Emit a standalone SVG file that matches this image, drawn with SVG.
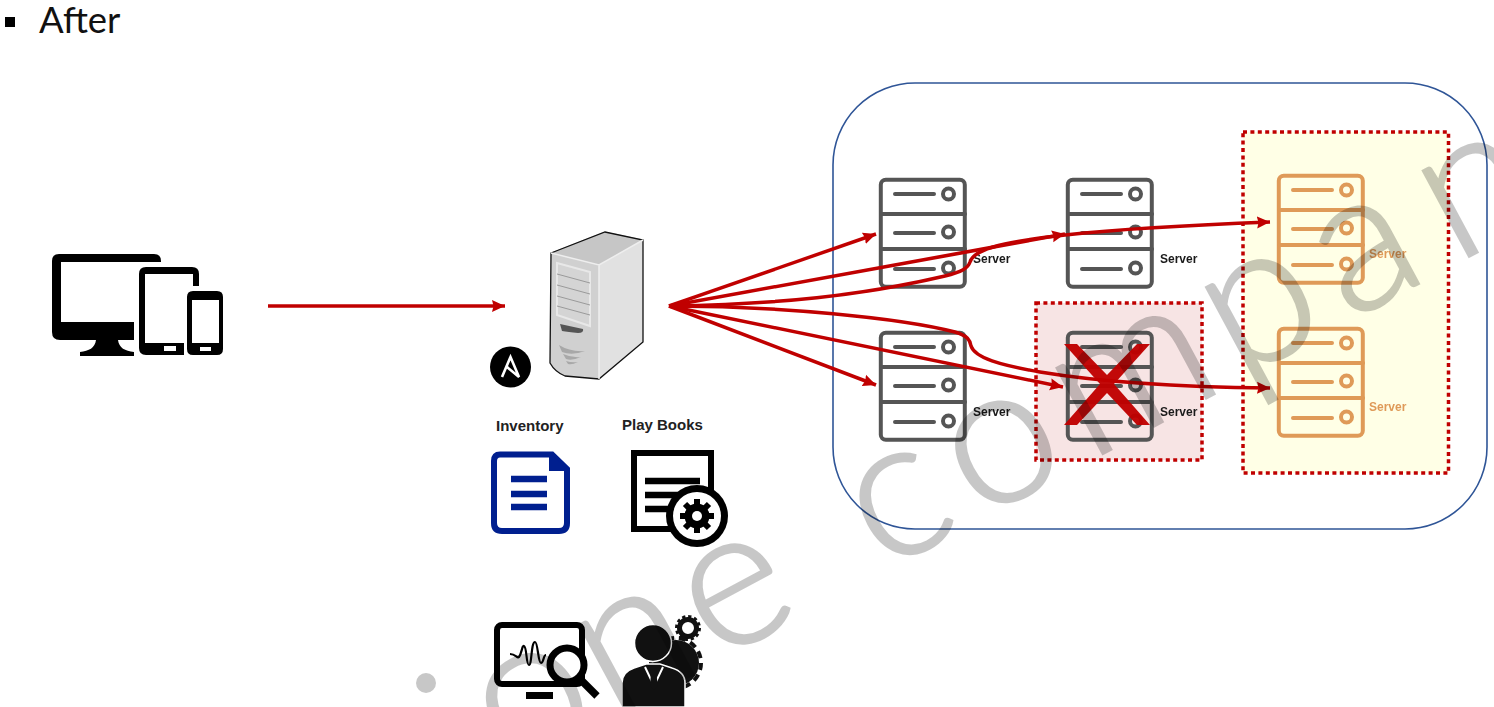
<svg xmlns="http://www.w3.org/2000/svg" xmlns:xlink="http://www.w3.org/1999/xlink" width="1494" height="707" viewBox="0 0 1494 707">
<style>
.lbl{font-family:"Liberation Sans",Arial,sans-serif;font-weight:700;font-size:12px;fill:#1a1a1a}
.big{font-size:15px;fill:#222}
.or{fill:#df9a58}
.conn{fill:none;stroke:#c00000;stroke-width:3.500;marker-end:url(#ah)}
.dot{stroke:#c00000;stroke-width:3.5;stroke-dasharray:4 3.4}
.srv rect.o{fill:none;stroke-width:4}
.srv path{fill:none;stroke-width:4;stroke-linecap:round}
.srv circle{fill:none;stroke-width:4}
</style>
<defs>
<marker id="ah" markerUnits="userSpaceOnUse" markerWidth="14" markerHeight="13" refX="13" refY="6.500" orient="auto"><path d="M0 .5L13 6.500L0 12.500L1.500 6.500Z" fill="#c00000"/></marker>
<filter id="soft" x="-5%" y="-5%" width="110%" height="110%"><feGaussianBlur stdDeviation=".6"/></filter>
<filter id="softer" x="-5%" y="-5%" width="110%" height="110%"><feGaussianBlur stdDeviation=".35"/></filter>
<g id="srvIcon" class="srv">
<rect class="o" x="1.800" y="1.800" width="84" height="107" rx="5"/>
<path d="M2 36H86M2 71H86M16 16H55M16 55H55M16 91H55"/>
<circle cx="69.500" cy="16" r="5.500"/><circle cx="69.500" cy="54" r="5.500"/><circle cx="69.500" cy="90" r="5.500"/>
</g>
</defs>
<rect width="1494" height="707" fill="#fff"/>
<g id="title">
<rect x="5" y="17" width="10" height="10" fill="#000"/>
<text x="39" y="33" font-family="Lato,'Open Sans',sans-serif" font-size="36.500" fill="#111">After</text>
</g>
<g id="cluster"><rect x="833" y="83" width="654" height="446" rx="82" fill="#fff" stroke="#2f5597" stroke-width="1.600"/></g>
<g id="failed-zone"><rect class="dot" x="1036" y="303" width="166" height="157" fill="#f7e4e4"/></g>
<g id="new-zone"><rect class="dot" x="1243" y="132" width="205.500" height="341" fill="#ffffe6"/></g>
<g id="devices" fill="#000">
<path d="M59 254H154Q161 254 161 261V262H61V322H134V340H118C119 348 125 351 134 352V356H80V352C89 351 95 348 96 340H60Q52 340 52 332V261Q52 254 59 254Z"/>
<path fill-rule="evenodd" d="M146 267H192Q199 267 199 274V286H193V274H145V343H184V355H146Q139 355 139 348V274Q139 267 146 267ZM164 346V351H176V346Z"/>
<path fill-rule="evenodd" d="M193 291H217Q223 291 223 297V349Q223 355 217 355H193Q187 355 187 349V297Q187 291 193 291ZM192 300V343H219V300ZM200 347V351H211V347Z"/>
</g>
<g id="control-server">
<path d="M551 253L605 232L643 240L599 265Z" fill="#c6c6c6" stroke="#c6c6c6"/>
<path d="M551 253L599 265V379L565 376Q555 372 550 363Z" fill="#d0d0d0"/>
<path d="M599 265L643 240V342L599 379Z" fill="#e1e1e1"/>
<path d="M551 253L605 232L643 240V342L599 379L565 376Q555 372 550 363Z" fill="none" stroke="#111" stroke-width="1.300"/>
<path d="M551 253L599 265L643 240M599 265V379" fill="none" stroke="#eee" stroke-width="1.500"/>
<path d="M557 263L590 272V326L557 315Z" fill="#d4d4d4" stroke="#e8e8e8" stroke-width="2"/>
<path d="M557 274L590 283M557 285L590 294M557 296L590 305M557 306L590 315" stroke="#9a9a9a" stroke-width="1" fill="none"/>
<path d="M560 324L583 329Q584 333 578 333Q568 332 562 331Z" fill="#555"/>
<path d="M559 345Q570 352 585 351Q572 356 562 352ZM563 354Q572 358 581 357Q572 361 566 359ZM566 361Q572 363 578 362Q572 365 568 364Z" fill="#a8a8a8"/>
</g>
<g id="ansible"><circle cx="510.500" cy="367" r="20.500" fill="#000"/><path d="M502 377L510.500 357L519 377L507 367" fill="none" stroke="#fff" stroke-width="2.600"/></g>
<g id="inventory">
<text class="lbl big" x="496" y="431">Inventory</text>
<path d="M500 454.500H552L567 469V523Q567 531 559 531H502Q494 531 494 523V461Q494 454.500 500 454.500Z" fill="#fff" stroke="#001f8f" stroke-width="6"/>
<path d="M549 452L569 471H549Z" fill="#001f8f"/>
<path d="M511 479H547M511 494H547M511 507H547" stroke="#001f8f" stroke-width="6.500"/>
</g>
<g id="playbooks">
<text class="lbl big" x="622" y="430">Play Books</text>
<rect x="634" y="453" width="77" height="76" fill="#fff" stroke="#000" stroke-width="6"/>
<path d="M645 481H700M645 495H700M645 509H700" stroke="#000" stroke-width="6.500"/>
<circle cx="697" cy="516" r="31" fill="#000"/><circle cx="697" cy="516" r="24" fill="#fff"/>
<path d="M697 499V533M680 516H714M685 504L709 528M709 504L685 528" stroke="#000" stroke-width="6"/>
<circle cx="697" cy="516" r="12.500" fill="#000"/><circle cx="697" cy="516" r="5" fill="#fff"/>
</g>
<g id="monitoring">
<rect x="497" y="625" width="85" height="59" rx="5" fill="#fff" stroke="#000" stroke-width="6"/>
<rect x="526" y="692" width="27" height="7" fill="#000"/>
<path d="M510 654C516 654 517 659 519 657C522 653 522 645 524 646C527 647 526 665 529 665C532 665 531 642 535 642C538 642 538 663 541 663C544 663 543 655 546 655" fill="none" stroke="#000" stroke-width="2.200"/>
<circle cx="567" cy="665" r="17" fill="#fff" stroke="#000" stroke-width="7"/>
<path d="M580 679L597 696" stroke="#000" stroke-width="7.500"/>
</g>
<g id="operator" fill="#111">
<circle cx="688" cy="628" r="8.500" fill="none" stroke="#111" stroke-width="5"/>
<circle cx="688" cy="628" r="11.500" fill="none" stroke="#111" stroke-width="3" stroke-dasharray="3.200 2.800"/>
<circle cx="676" cy="663" r="23"/>
<circle cx="676" cy="663" r="25" fill="none" stroke="#111" stroke-width="4" stroke-dasharray="7 5"/>
<g stroke="#fff" stroke-width="1.500">
<circle cx="653" cy="643" r="18.500"/>
<path d="M622 707V683Q622 672 634 668L646 664H660L672 668Q685 672 685 683V707Z"/>
</g>
<path d="M645 667L654 686L663 667" fill="none" stroke="#fff" stroke-width="2"/>
<path d="M650 666H657V670L656 672L658 686L654 690L650 686L651 672L650 670Z"/>
</g>
<g id="servers">
<g filter="url(#softer)">
<use id="server-1" xlink:href="#srvIcon" x="879" y="178" stroke="#555"/>
<use id="server-2" xlink:href="#srvIcon" x="1066" y="178" stroke="#555"/>
<use id="server-3" xlink:href="#srvIcon" x="879" y="331" stroke="#555"/>
<use id="server-4" xlink:href="#srvIcon" x="1066" y="331" stroke="#555"/>
</g>
<g filter="url(#soft)">
<use id="server-5" xlink:href="#srvIcon" x="1277" y="174" stroke="#df9a58"/>
<use id="server-6" xlink:href="#srvIcon" x="1277" y="327" stroke="#df9a58"/>
<text class="lbl or" x="1369" y="258">Server</text>
<text class="lbl or" x="1369" y="411">Server</text>
</g>
<text class="lbl" x="973" y="263">Server</text>
<text class="lbl" x="1160" y="263">Server</text>
<text class="lbl" x="973" y="416">Server</text>
<text class="lbl" x="1160" y="416">Server</text>
</g>
<g id="connectors">
<path class="conn" d="M268 306H505"/>
<path class="conn" d="M669 306L876 234"/>
<path class="conn" d="M669 306L876 385"/>
<path class="conn" d="M669 306L1065 234"/>
<path class="conn" d="M669 306L1063 387"/>
<path class="conn" d="M669 306C780 304 860 296 945 276C962 272 968 268 970 262C974 248 1010 241 1065 235C1120 229 1190 225 1270 222"/>
<path class="conn" d="M669 306C780 306 900 318 955 332C968 336 970 340 971 346C975 358 1000 365 1040 372C1100 382 1180 387 1270 388"/>
</g>
<path id="cross" fill="#c00000" opacity=".96" d="M1064 344H1077L1107 375L1137 344H1150L1114 384L1150 425H1137L1107 393L1077 425H1064L1100 384Z"/>
<g id="watermark" fill="#000" stroke="#000" opacity=".22">
<circle cx="426" cy="683" r="10" stroke="none"/>
<text transform="translate(1160 423) rotate(-28.300)" y="0" x="-739 -623 -505 -400 -315 -206 -81 89 214 335" font-family="Lato,'Open Sans',sans-serif" font-weight="300" font-size="196" stroke-width="2.500">one compan</text>
</g>
</svg>
